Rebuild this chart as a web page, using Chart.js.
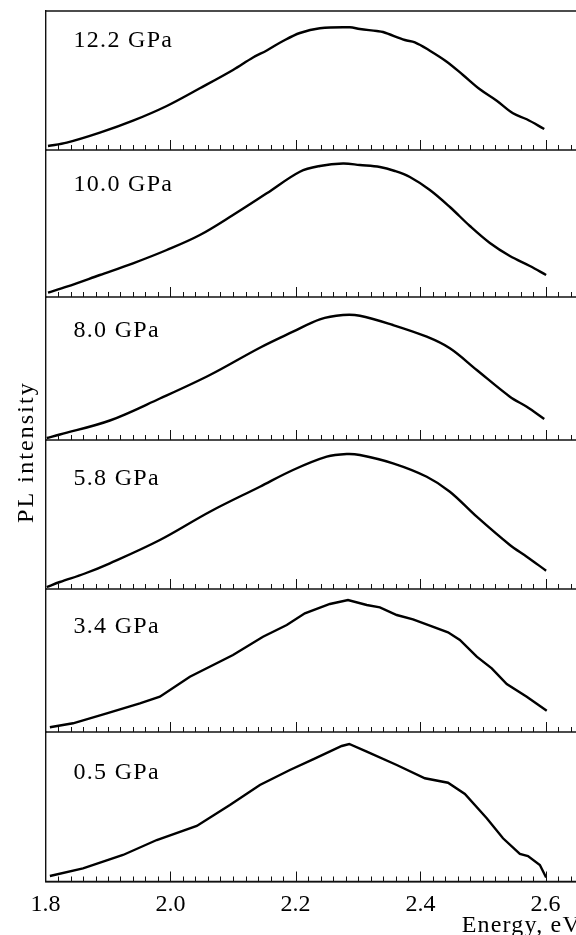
<!DOCTYPE html>
<html>
<head>
<meta charset="utf-8">
<title>PL spectra under pressure</title>
<script src="https://cdn.jsdelivr.net/npm/chart.js@4.4.0/dist/chart.umd.min.js"></script>
<style>
  html, body { margin: 0; padding: 0; background: #fff; overflow: hidden; }
  #wrap { width: 600px; height: 935px; }
</style>
</head>
<body>
<div id="wrap"><canvas id="plChart" width="600" height="935"></canvas></div>
<script>
// photon energy (eV) and PL intensity (a.u.) for each pressure, top panel first
var pressures = ['12.2 GPa', '10.0 GPa', '8.0 GPa', '5.8 GPa', '3.4 GPa', '0.5 GPa'];

var energy122 = [1.804, 1.834, 1.887, 1.940, 1.994, 2.047, 2.100, 2.132, 2.154, 2.180, 2.207, 2.239, 2.287, 2.303, 2.330, 2.340, 2.375, 2.391, 2.415, 2.442, 2.468, 2.495, 2.522, 2.548, 2.570, 2.598];
var pl122     = [4, 7.3, 17.3, 29.3, 44, 61.7, 80, 92.5, 99.5, 109, 117, 121.7, 122.7, 121, 119, 118, 110, 107.7, 99.3, 88.3, 75, 60.7, 49.3, 36.7, 30.7, 21];

var energy100 = [1.804, 1.834, 1.887, 1.940, 1.994, 2.047, 2.100, 2.154, 2.207, 2.239, 2.276, 2.303, 2.335, 2.359, 2.383, 2.415, 2.447, 2.479, 2.511, 2.543, 2.575, 2.601];
var pl100     = [4.3, 10.3, 22, 33.7, 47, 62, 82, 103.7, 125.3, 131, 133.5, 132, 130, 126, 120, 107, 90, 71, 54, 41, 31, 22];

var energy80 = [1.802, 1.823, 1.903, 1.983, 2.063, 2.143, 2.196, 2.239, 2.276, 2.303, 2.356, 2.410, 2.447, 2.490, 2.543, 2.570, 2.598];
var pl80     = [2, 5.5, 19.5, 41.5, 65, 92.3, 108.3, 120.7, 125, 124.3, 115, 103.3, 91.7, 70, 43.3, 33.3, 21];

var energy58 = [1.802, 1.823, 1.863, 1.903, 1.983, 2.063, 2.143, 2.196, 2.250, 2.282, 2.303, 2.356, 2.410, 2.447, 2.490, 2.543, 2.570, 2.601];
var pl58     = [2, 7, 15.5, 25.7, 49, 77.3, 102.3, 119, 132.3, 135, 134, 125.7, 112.3, 97.3, 72.3, 44, 32.3, 18.3];

var energy34 = [1.807, 1.844, 1.898, 1.951, 1.983, 2.031, 2.100, 2.148, 2.186, 2.215, 2.255, 2.284, 2.314, 2.335, 2.362, 2.388, 2.415, 2.444, 2.463, 2.490, 2.514, 2.538, 2.570, 2.602];
var pl34     = [4.7, 8.7, 18.7, 28.7, 35.3, 55.3, 77, 95.3, 107, 118.7, 128, 132, 127, 124.7, 117, 112.7, 106.3, 99.7, 92, 75.3, 63.7, 48, 35.3, 21.3];

var energy05 = [1.807, 1.860, 1.924, 1.978, 2.042, 2.095, 2.143, 2.191, 2.228, 2.274, 2.286, 2.314, 2.362, 2.407, 2.444, 2.471, 2.506, 2.532, 2.559, 2.572, 2.591, 2.601];
var pl05     = [5.5, 13.2, 26.5, 41.5, 55.5, 76.5, 96.5, 111.5, 122.2, 135.5, 137.5, 129.8, 116.5, 103.2, 98.8, 87.5, 63.2, 43.2, 27.5, 25.5, 16.5, 4];

var energyTicks = [1.8, 2.0, 2.2, 2.4, 2.6];

var energies = [energy122, energy100, energy80, energy58, energy34, energy05];
var intensities = [pl122, pl100, pl80, pl58, pl34, pl05];

// panel layout: relative heights (also the y range of each panel), label drop from panel top
var panelHeights = [139, 147, 143, 149, 143, 149.5];
var labelDrop = [36, 41, 40, 45, 44, 47];
var panelTension = [0.35, 0.35, 0.35, 0.35, 0, 0];

var serif = '"Liberation Serif", "Times New Roman", serif';
var ink = '#111';

function toPoints(xs, ys) {
    var pts = [];
    for (var i = 0; i < xs.length; i++) {
        pts.push({x: xs[i], y: ys[i]});
    }
    return pts;
}

var datasets = [];
var scales = {
    x: {
        type: 'linear',
        min: 1.8,
        max: 2.66,
        afterBuildTicks: function (axis) {
            axis.ticks = energyTicks.map(function (v) { return {value: v}; });
        },
        afterFit: function (axis) { axis.height = 53.5; },
        grid: {display: false, drawTicks: false},
        border: {display: true, color: ink, width: 1.4},
        ticks: {
            color: '#000',
            padding: 9,
            autoSkip: false,
            maxRotation: 0,
            font: {family: serif, size: 24},
            callback: function (v) { return Number(v).toFixed(1); }
        }
    }
};

for (var i = 0; i < pressures.length; i++) {
    datasets.push({
        label: pressures[i],
        data: toPoints(energies[i], intensities[i]),
        xAxisID: 'x',
        yAxisID: 'y' + i,
        borderColor: '#000',
        borderWidth: 2.4,
        pointRadius: 0,
        fill: false,
        tension: panelTension[i]
    });
    scales['y' + i] = {
        type: 'linear',
        position: 'left',
        stack: 'spectra',
        stackWeight: panelHeights[i],
        weight: pressures.length - i,
        min: 0,
        max: panelHeights[i],
        ticks: {display: false},
        grid: {display: false, drawTicks: false},
        border: {display: true, color: ink, width: 1.4},
        afterFit: function (axis) { axis.width = 0; }
    };
}

// frame lines, inward energy ticks on every panel, pressure labels and axis titles
var panelFrame = {
    id: 'panelFrame',
    afterDatasetsDraw: function (chart) {
        var ctx = chart.ctx;
        var area = chart.chartArea;
        var xs = chart.scales.x;
        ctx.save();
        ctx.strokeStyle = ink;
        ctx.lineWidth = 1.4;
        ctx.beginPath();
        ctx.moveTo(area.left, area.top);
        ctx.lineTo(area.right, area.top);
        ctx.stroke();

        for (var i = 0; i < pressures.length; i++) {
            var ys = chart.scales['y' + i];
            var base = ys.bottom;
            ctx.lineWidth = 1.4;
            ctx.beginPath();
            ctx.moveTo(area.left, base);
            ctx.lineTo(area.right, base);
            ctx.stroke();

            ctx.lineWidth = 1;
            ctx.beginPath();
            for (var k = 1; 1.8 + k * 0.02 < xs.max; k++) {
                var px = Math.round(xs.getPixelForValue(1.8 + k * 0.02)) + 0.5;
                var len = (k % 10 === 0) ? 10 : 5;
                ctx.moveTo(px, base);
                ctx.lineTo(px, base - len);
            }
            ctx.stroke();

            ctx.fillStyle = '#000';
            ctx.font = '24px ' + serif;
            ctx.letterSpacing = '1.3px';
            ctx.textAlign = 'left';
            ctx.textBaseline = 'alphabetic';
            ctx.fillText(pressures[i], area.left + 28, ys.top + labelDrop[i]);
        }

        ctx.letterSpacing = '2.1px';
        ctx.save();
        ctx.translate(33, 452);
        ctx.rotate(-Math.PI / 2);
        ctx.textAlign = 'center';
        ctx.fillText('PL intensity', 0, 0);
        ctx.restore();

        ctx.letterSpacing = '1.2px';
        ctx.textAlign = 'right';
        ctx.fillText('Energy, eV', 581, 932);
        ctx.restore();
    }
};

new Chart(document.getElementById('plChart'), {
    type: 'line',
    data: {datasets: datasets},
    options: {
        responsive: false,
        devicePixelRatio: 1,
        animation: false,
        events: [],
        layout: {padding: {left: 45.5, top: 11, right: 17, bottom: 0}},
        plugins: {legend: {display: false}, tooltip: {enabled: false}},
        scales: scales
    },
    plugins: [panelFrame]
});
</script>
</body>
</html>
